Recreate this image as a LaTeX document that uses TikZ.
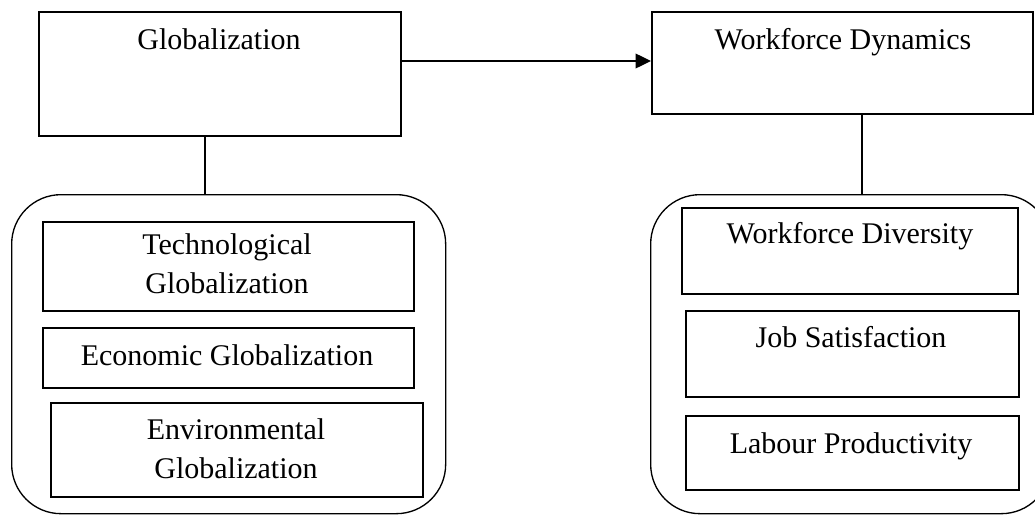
\documentclass[tikz,border=0pt]{standalone}
\usepackage{fontspec}
\setmainfont{Liberation Serif}
\usetikzlibrary{arrows.meta}
\begin{document}
\begin{tikzpicture}[x=0.75pt,y=-0.75pt,
  box/.style={draw, line width=1.2pt, rectangle, inner sep=0pt, anchor=north west},
  group/.style={draw, line width=1pt, rectangle, rounded corners=37pt, inner sep=0pt, anchor=north west},
  lbl/.style={anchor=base, inner sep=0pt, font=\fontsize{22.5}{27}\selectfont},
  link/.style={line width=1pt}
]
\useasboundingbox (0,0) rectangle (1035,514);
\begin{scope}
\clip (0,0) rectangle (1035,514);
% main boxes
\node[box, minimum width=271.5pt, minimum height=93pt] (glob) at (38,11) {};
\node[box, minimum width=285.75pt, minimum height=76.5pt] (wfd) at (651,11) {};
% grouping boxes
\node[group, minimum width=325.5pt, minimum height=239.25pt] (lgroup) at (11,194) {};
\node[group, minimum width=300pt, minimum height=239.25pt] (rgroup) at (650,194) {};
% left sub boxes
\node[box, minimum width=278.25pt, minimum height=66.75pt] (tech) at (42,221) {};
\node[box, minimum width=278.25pt, minimum height=45pt] (econ) at (42,327) {};
\node[box, minimum width=279pt, minimum height=70.5pt] (env) at (50,402) {};
% right sub boxes
\node[box, minimum width=252pt, minimum height=64.5pt] (div) at (681,207) {};
\node[box, minimum width=249.75pt, minimum height=64.5pt] (job) at (685,310) {};
\node[box, minimum width=249.75pt, minimum height=55.5pt] (lab) at (685,415) {};
% texts
\node[lbl] (tglob) at (219,49) {Globalization};
\node[lbl] (twfd) at (843,49) {Workforce Dynamics};
\node[lbl] (ttech1) at (227,254) {Technological};
\node[lbl] (ttech2) at (227,293) {Globalization};
\node[lbl] (tecon) at (227,365) {Economic Globalization};
\node[lbl] (tenv1) at (236,439) {Environmental};
\node[lbl] (tenv2) at (236,478) {Globalization};
\node[lbl] (tdiv) at (850,243) {Workforce Diversity};
\node[lbl] (tjob) at (851,347) {Job Satisfaction};
\node[lbl] (tlab) at (851,453) {Labour Productivity};
% connectors
\draw[link, -{Triangle[length=11.5pt,width=11pt]}] (glob.east |- 0,61) -- (wfd.west |- 0,61);
\draw[link] (glob.south -| 205,0) -- (lgroup.north -| 205,0);
\draw[link] (wfd.south -| 862,0) -- (rgroup.north -| 862,0);
\end{scope}
\end{tikzpicture}
\end{document}
